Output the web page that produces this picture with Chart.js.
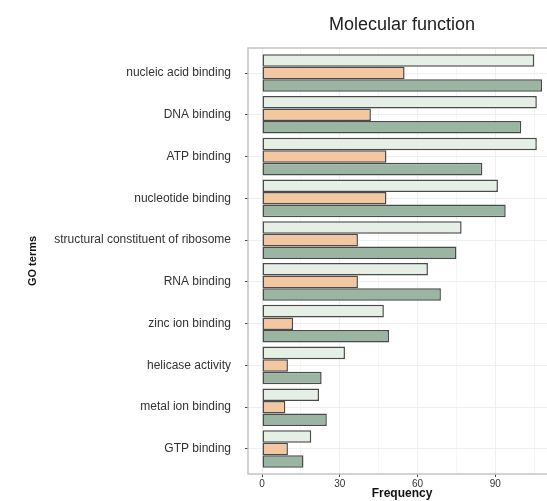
<!DOCTYPE html>
<html>
<head>
<meta charset="utf-8">
<script src="https://cdn.jsdelivr.net/npm/chart.js@4"></script>
<style>
  html, body { margin: 0; padding: 0; background: #fff; overflow: hidden; }
  canvas { display: block; }
</style>
</head>
<body>
<canvas id="goChart" width="556" height="501"></canvas>
<script>
// GO terms (top to bottom)
const goTerms = ['nucleic acid binding', 'DNA binding', 'ATP binding', 'nucleotide binding',
    'structural constituent of ribosome', 'RNA binding', 'zinc ion binding',
    'helicase activity', 'metal ion binding', 'GTP binding'];

// three groups
const groupLight = [105, 106, 106, 91, 77, 64, 47, 32, 22, 19];
const groupOrange = [55, 42, 48, 48, 37, 37, 12, 10, 9, 10];
const groupGreen = [108, 100, 85, 94, 75, 69, 49, 23, 25, 16];

const xTickLabels = [0, 30, 60, 90];

const FONT = "'Liberation Sans', Arial, sans-serif";

function toPoints(vals) {
    return vals.map((v, i) => ({ x: v, y: i }));
}

// panel border + title drawn on chart area
const panelPlugin = {
    id: 'panel',
    beforeDatasetsDraw(chart) {
        const { ctx, chartArea: a } = chart;
        ctx.save();
        ctx.strokeStyle = '#c4c4c4';
        ctx.lineWidth = 1.5;
        ctx.strokeRect(a.left, a.top, a.right - a.left, a.bottom - a.top);
        ctx.restore();
    },
    afterDraw(chart) {
        const { ctx, chartArea: a } = chart;
        ctx.save();
        ctx.fillStyle = '#222';
        ctx.font = '18px ' + FONT;
        ctx.textAlign = 'center';
        ctx.textBaseline = 'middle';
        ctx.fillText('Molecular function', (a.left + a.right) / 2, 25);
        ctx.restore();
    }
};

const barStyle = { borderColor: '#4a4a4a', borderWidth: 1.5, borderSkipped: false,
    barPercentage: 1, categoryPercentage: 0.9 };

new Chart(document.getElementById('goChart'), {
    type: 'bar',
    data: {
        datasets: [
            { label: 'Group 1', data: toPoints(groupLight), backgroundColor: '#e5efe5', ...barStyle },
            { label: 'Group 2', data: toPoints(groupOrange), backgroundColor: '#f3c8a0', ...barStyle },
            { label: 'Group 3', data: toPoints(groupGreen), backgroundColor: '#9bb5a3', ...barStyle }
        ]
    },
    options: {
        responsive: false,
        animation: false,
        indexAxis: 'y',
        layout: { padding: { top: 48, left: 0, right: 0, bottom: 0 } },
        plugins: {
            legend: { display: false },
            tooltip: { enabled: false }
        },
        scales: {
            x: {
                type: 'linear',
                min: -5.4,
                max: 113.4,
                afterFit: s => { s.height = 27; },
                border: { display: false },
                grid: {
                    color: '#efefef',
                    lineWidth: ctx => (ctx.tick && ctx.tick.value % 30 === 0) ? 1 : 0.6,
                    tickColor: ctx => xTickLabels.includes(ctx.tick && ctx.tick.value) ? '#444' : 'rgba(0,0,0,0)',
                    tickLength: 3,
                    tickWidth: 1
                },
                ticks: {
                    stepSize: 15,
                    includeBounds: false,
                    autoSkip: false,
                    maxRotation: 0,
                    padding: 1,
                    color: '#333',
                    font: { family: FONT, size: 10 },
                    callback: v => xTickLabels.includes(v) ? String(v) : ''
                },
                title: {
                    display: true,
                    text: 'Frequency',
                    color: '#111',
                    font: { family: FONT, size: 12, weight: 'bold' },
                    padding: { top: 0, bottom: 0 }
                }
            },
            y: {
                type: 'linear',
                reverse: true,
                offset: false,
                min: -0.6,
                max: 9.6,
                afterFit: s => { s.width = 248; },
                border: { display: false },
                grid: {
                    offset: false,
                    color: '#efefef',
                    tickColor: '#444',
                    tickLength: 3,
                    tickWidth: 1
                },
                ticks: {
                    stepSize: 1,
                    includeBounds: false,
                    autoSkip: false,
                    padding: 14,
                    color: '#333',
                    font: { family: FONT, size: 12 },
                    callback: v => goTerms[v] !== undefined ? goTerms[v] : ''
                },
                title: {
                    display: true,
                    text: 'GO terms',
                    color: '#111',
                    font: { family: FONT, size: 11, weight: 'bold' },
                    padding: { top: 26, bottom: 0 }
                }
            }
        }
    },
    plugins: [panelPlugin]
});
</script>
</body>
</html>
